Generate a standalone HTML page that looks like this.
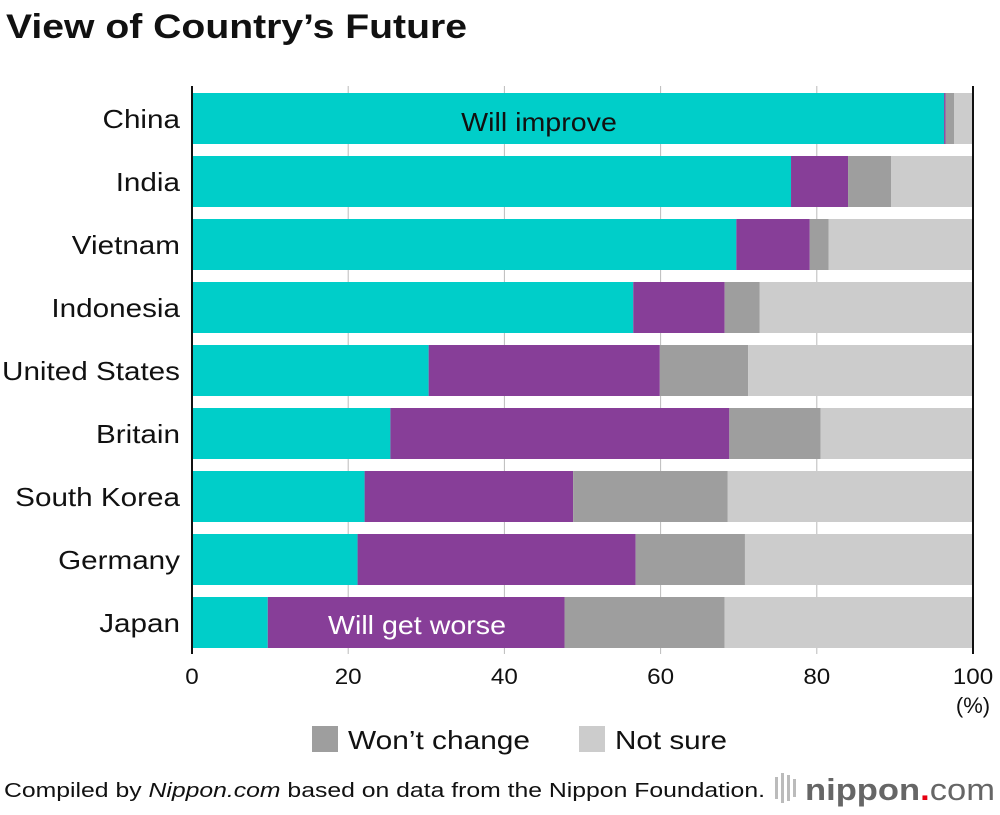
<!DOCTYPE html>
<html><head><meta charset="utf-8"><style>
body{margin:0;background:#fff;font-family:"Liberation Sans",sans-serif;}
svg text{font-family:"Liberation Sans",sans-serif;}
</style></head><body>
<svg id="c" width="1000" height="810" xmlns="http://www.w3.org/2000/svg">
<text x="6" y="38" font-size="34" font-weight="bold" fill="#111" textLength="461" lengthAdjust="spacingAndGlyphs">View of Country’s Future</text>
<g id="grid"></g><g id="bars"></g><g id="labels"></g>
<line x1="192" y1="86" x2="192" y2="654" stroke="#111" stroke-width="2"/>
<line x1="973" y1="86" x2="973" y2="654" stroke="#111" stroke-width="2"/>
<text x="973" y="713" font-size="22" text-anchor="middle" fill="#111">(%)</text>
<g>
<rect x="312" y="726" width="26" height="26" fill="#9e9e9e"/>
<text x="348" y="749" font-size="26" fill="#111" textLength="182" lengthAdjust="spacingAndGlyphs">Won’t change</text>
<rect x="579" y="726" width="26" height="26" fill="#cccccc"/>
<text x="615" y="749" font-size="26" fill="#111" textLength="112" lengthAdjust="spacingAndGlyphs">Not sure</text>
</g>
<text x="4" y="797" font-size="20" fill="#111" textLength="761" lengthAdjust="spacingAndGlyphs">Compiled by <tspan font-style="italic">Nippon.com</tspan> based on data from the Nippon Foundation.</text>
<g>
<rect x="775" y="777" width="3" height="22" fill="#bbb"/><rect x="781" y="773" width="3" height="30" fill="#bbb"/><rect x="787" y="775" width="3" height="26" fill="#bbb"/><rect x="793" y="779" width="3" height="18" fill="#bbb"/>
<text x="805" y="800" font-size="31" font-weight="bold" fill="#666" textLength="190" lengthAdjust="spacingAndGlyphs">nippon<tspan fill="#e60012">.</tspan><tspan font-weight="normal">com</tspan></text>
</g>
</svg>
<script>
const countries=["China","India","Vietnam","Indonesia","United States","Britain","South Korea","Germany","Japan"];
const improve=[96.3,76.7,69.7,56.5,30.3,25.4,22.1,21.2,9.7];
const worse=[0.2,7.3,9.4,11.7,29.6,43.4,26.7,35.6,38.0];
const noChange=[1.1,5.5,2.4,4.5,11.3,11.7,19.8,14.0,20.5];
const ticks=[0,20,40,60,80,100];
const colors=["#00cec9","#873e98","#9e9e9e","#cccccc"];
const ns="http://www.w3.org/2000/svg";
const x=v=>192+v*7.81;
const y=i=>93+i*63;
function mk(t,a,p){const e=document.createElementNS(ns,t);for(const k in a)e.setAttribute(k,a[k]);p.appendChild(e);return e;}
function widen(t,f){const w=t.getComputedTextLength();t.setAttribute('textLength',w*f);t.setAttribute('lengthAdjust','spacingAndGlyphs');}
const grid=document.getElementById('grid'),bars=document.getElementById('bars'),labels=document.getElementById('labels');
ticks.forEach(t=>{
  if(t>0&&t<100){const l=mk('line',{x1:x(t),x2:x(t),y1:86,y2:654,stroke:'#bbb','stroke-width':1},grid);
  
  }
  const tx=mk('text',{x:x(t),y:684,'font-size':22,'text-anchor':'middle',fill:'#111'},labels);tx.textContent=t;
  
  
  widen(tx,1.1);
});
countries.forEach((c,i)=>{
  const segs=[improve[i],worse[i],noChange[i],100-improve[i]-worse[i]-noChange[i]];
  const names=['will-improve','will-get-worse','wont-change','not-sure'];
  let s=0;
  segs.forEach((v,j)=>{
    const r=mk('rect',{x:x(s),y:y(i),width:Math.max(0,x(s+v)-x(s)),height:51,fill:colors[j]},bars);
    
    
    s+=v;
  });
  const t=mk('text',{x:180,y:y(i)+35,'font-size':26,'text-anchor':'end',fill:'#111'},labels);t.textContent=c;
  
  
  widen(t,1.14);
});
const a=mk('text',{x:539,y:y(0)+38,'font-size':26,'text-anchor':'middle',fill:'#111'},labels);a.textContent='Will improve';


widen(a,1.1);
const b=mk('text',{x:417,y:y(8)+37,'font-size':26,'text-anchor':'middle',fill:'#fff'},labels);b.textContent='Will get worse';


widen(b,1.1);
</script>
</body></html>
